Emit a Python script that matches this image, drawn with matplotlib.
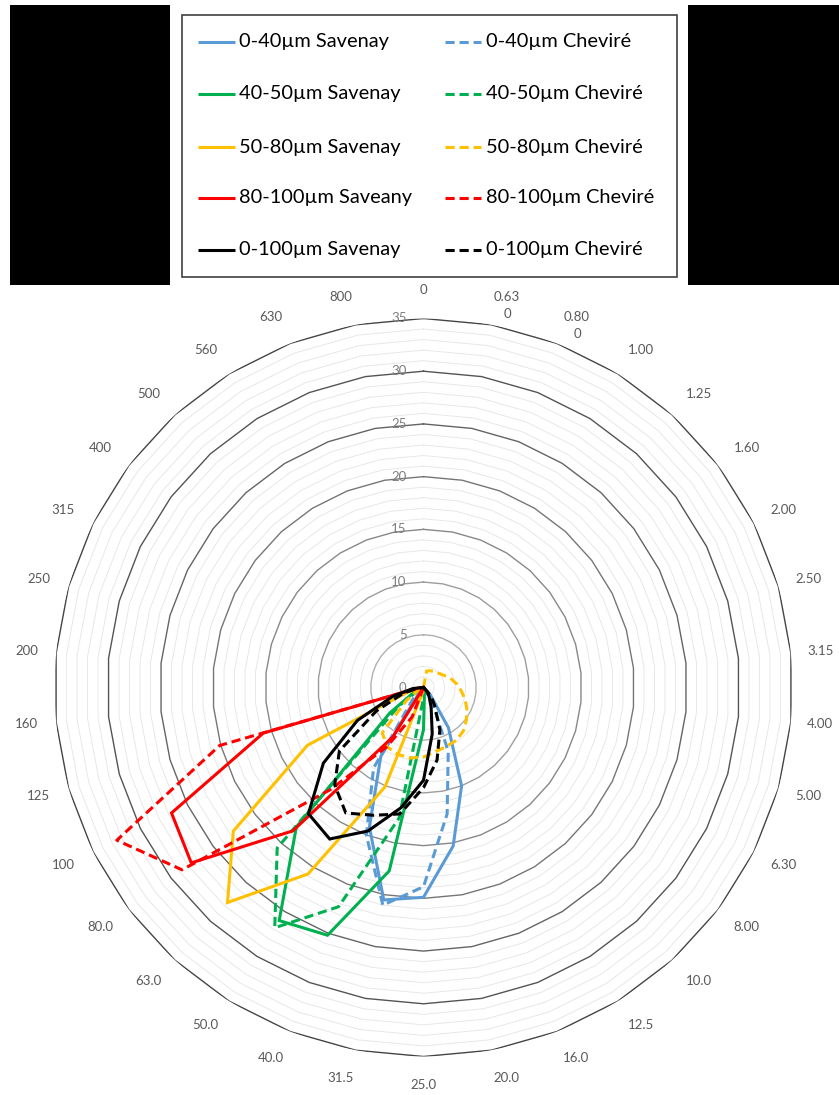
import numpy as np
import matplotlib
matplotlib.use("Agg")
import matplotlib.pyplot as plt
from matplotlib.patches import Rectangle

plt.rcParams['font.family'] = ['Lato', 'DejaVu Sans']

categories = ["0", "0.63", "0.80", "1.00", "1.25", "1.60", "2.00", "2.50", "3.15", "4.00",
              "5.00", "6.30", "8.00", "10.0", "12.5", "16.0", "20.0", "25.0", "31.5", "40.0",
              "50.0", "63.0", "80.0", "100", "125", "160", "200", "250", "315", "400",
              "500", "560", "630", "800"]
# second line under two of the category labels
extra_labels = {"0.63": "0", "0.80": "0"}

blue_sav = [0, 0, 0, 0, 0, 0, 0, 0, 0, 0, 0, 0, 0, 1.0, 4.5, 10.0, 15.3, 19.9, 20.5, 14.2,
            7.7, 0.5, 0, 0, 0, 0, 0, 0, 0, 0, 0, 0, 0, 0]
blue_che = [0, 0, 0, 0, 0, 0, 0, 0, 0, 0, 0, 0, 0, 0, 1.5, 6.5, 12.2, 18.9, 21.0, 15.0,
            9.0, 1.5, 0, 0, 0, 0, 0, 0, 0, 0, 0, 0, 0, 0]
green_sav = [0, 0, 0, 0, 0, 0, 0, 0, 0, 0, 0, 0, 0, 0, 0, 0, 0.5, 4.0, 17.7, 25.2,
             26.0, 17.9, 4.0, 1.0, 0, 0, 0, 0, 0, 0, 0, 0, 0, 0]
green_che = [0, 0, 0, 0, 0, 0, 0, 0, 0, 0, 0, 0, 0, 0, 0, 0, 0, 1.0, 12.6, 22.3,
             26.8, 20.6, 3.0, 0.5, 0, 0, 0, 0, 0, 0, 0, 0, 0, 0]
yellow_sav = [0, 0, 0, 0, 0, 0, 0, 0, 0, 0, 0, 0, 0, 0, 0, 0, 0, 0, 0.5, 10.1,
              20.8, 27.6, 22.6, 12.3, 1.5, 0, 0, 0, 0, 0, 0, 0, 0, 0]
yellow_che = [0, 1.6, 1.7, 1.8, 1.9, 2.1, 2.4, 2.8, 3.2, 3.6, 4.1, 4.6, 5.1, 5.6, 5.9, 6.0, 6.2, 6.6, 6.8, 6.8,
              6.6, 5.8, 2.0, 0.5, 0, 0, 0, 0, 0, 0, 0, 0, 0, 0]
red_sav = [0, 0, 0, 0, 0, 0, 0, 0, 0, 0, 0, 0, 0, 0, 0, 0, 0, 0, 0, 0,
           5.5, 18.4, 27.6, 26.7, 15.8, 0.5, 0, 0, 0, 0, 0, 0, 0, 0]
red_che = [0, 0, 0, 0, 0, 0, 0, 0, 0, 0, 0, 0, 0, 0, 0, 0, 0, 0, 0, 3.0,
           6.6, 13.1, 28.7, 32.5, 20.1, 0.5, 0, 0, 0, 0, 0, 0, 0, 0]
black_sav = [0, 0, 0, 0, 0, 0, 0, 0, 0, 0, 0, 0, 0, 0.5, 1.0, 2.0, 4.5, 8.8, 11.6, 14.6,
             16.9, 16.2, 11.9, 7.0, 3.0, 1.0, 0, 0, 0, 0, 0, 0, 0, 0]
black_che = [0, 0, 0, 0, 0, 0, 0, 0, 0, 0, 0, 0, 0, 1.0, 2.0, 4.3, 7.0, 9.5, 12.2, 13.0,
             14.0, 12.5, 10.0, 5.0, 2.0, 0.5, 0, 0, 0, 0, 0, 0, 0, 0]

series = [
    ("0-40µm Savenay", blue_sav, "#5B9BD5", "-"),
    ("0-40µm Cheviré", blue_che, "#5B9BD5", "--"),
    ("40-50µm Savenay", green_sav, "#00B050", "-"),
    ("40-50µm Cheviré", green_che, "#00B050", "--"),
    ("50-80µm Savenay", yellow_sav, "#FFC000", "-"),
    ("50-80µm Cheviré", yellow_che, "#FFC000", "--"),
    ("80-100µm Saveany", red_sav, "#FF0000", "-"),
    ("80-100µm Cheviré", red_che, "#FF0000", "--"),
    ("0-100µm Savenay", black_sav, "#000000", "-"),
    ("0-100µm Cheviré", black_che, "#000000", "--"),
]

r_max = 35
major_colors = {5: "#b0b0b0", 10: "#9c9c9c", 15: "#888888", 20: "#767676",
                25: "#646464", 30: "#545454", 35: "#444444"}
LW = 2.2
DASH = (3.0, 1.6)

W, H = 839, 1095
fig = plt.figure(figsize=(W / 100, H / 100), dpi=100)
fig.patch.set_facecolor("white")

cx, cy, R = 423.5, 687.5, 369.0
ax = fig.add_axes([(cx - R) / W, 1 - (cy + R) / H, 2 * R / W, 2 * R / H], projection="polar")
ax.set_theta_zero_location("N")
ax.set_theta_direction(-1)
ax.set_ylim(0, r_max)
ax.grid(False)
ax.spines["polar"].set_visible(False)
ax.set_xticks([])
ax.set_yticks([])
ax.patch.set_alpha(0)

n = len(categories)
theta = np.arange(n) * 2 * np.pi / n
theta_c = np.append(theta, theta[0])

# polygon gridlines like excel
for r in range(1, r_max + 1):
    if r % 5:
        ax.plot(theta_c, np.full(n + 1, r), color="#e6e6e6", lw=0.65, zorder=1)
    else:
        ax.plot(theta_c, np.full(n + 1, r), color=major_colors[r], lw=1.0, zorder=2)

for label, vals, color, ls in series:
    v = np.append(vals, vals[0])
    line, = ax.plot(theta_c, v, color=color, lw=LW, zorder=5, solid_joinstyle="miter")
    if ls == "--":
        line.set_dashes(DASH)

# category labels, pushed sideways away from the vertical axis like excel does
r_lab = 37.7
for t, c in zip(theta, categories):
    s = np.sin(t)
    dx = 0 if abs(s) < 1e-6 else np.sign(s) * 10 * abs(np.cos(t))
    ax.annotate(c, xy=(t, r_lab), xytext=(dx, 0), textcoords="offset pixels",
                ha="center", va="center", fontsize=9.5, color="#595959", annotation_clip=False)
    if c in extra_labels:
        ax.annotate(extra_labels[c], xy=(t, r_lab), xytext=(dx + 1, -17.5), textcoords="offset pixels",
                    ha="center", va="center", fontsize=9.5, color="#595959", annotation_clip=False)

# radial axis labels
for r in range(0, r_max + 1, 5):
    ax.annotate(str(r), xy=(0, r), xytext=(-17, 0), textcoords="offset pixels",
                ha="right", va="center", fontsize=9.5, color="#7f7f7f", annotation_clip=False)

# legend area drawn in pixel coordinates
lax = fig.add_axes([0, 0, 1, 1])
lax.set_xlim(0, W)
lax.set_ylim(H, 0)
lax.axis("off")
lax.patch.set_alpha(0)

lax.add_patch(Rectangle((10, 5), 160, 280, facecolor="black", edgecolor="none"))
lax.add_patch(Rectangle((688, 5), 151, 280, facecolor="black", edgecolor="none"))
lax.add_patch(Rectangle((182, 15), 495, 262, facecolor="white", edgecolor="#404040", lw=1.2))

row_y = [42, 94, 147, 198, 250]
col_x = [(198, 235, 239), (445, 481, 486)]
for i, (label, vals, color, ls) in enumerate(series):
    row, col = i // 2, i % 2
    x0, x1, xt = col_x[col]
    y = row_y[row]
    ln, = lax.plot([x0, x1], [y, y], color=color, lw=LW, solid_capstyle="butt")
    if ls == "--":
        ln.set_dashes(DASH)
    lax.text(xt, y, label, ha="left", va="center", fontsize=14.4, color="black")

fig.savefig("out.png", dpi=100)
